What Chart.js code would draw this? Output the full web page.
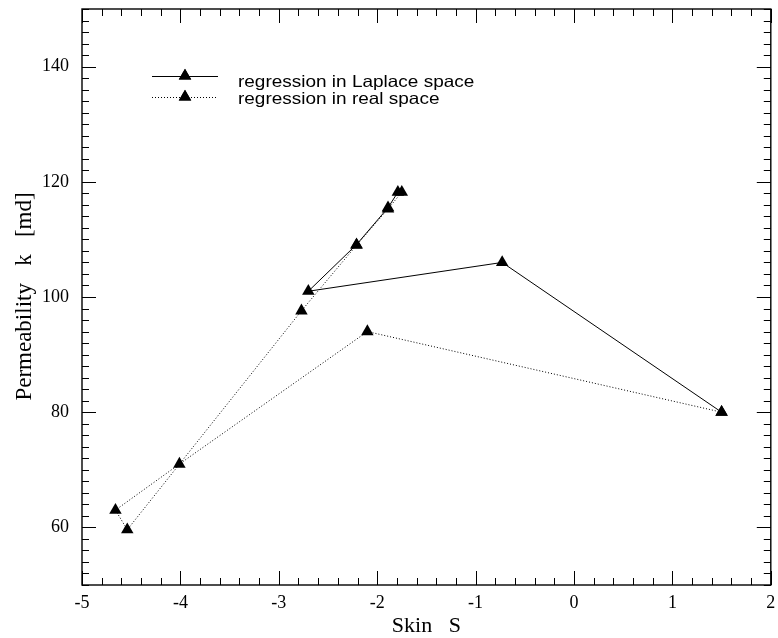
<!DOCTYPE html>
<html>
<head>
<meta charset="utf-8">
<title>Permeability vs Skin</title>
<script src="https://cdn.jsdelivr.net/npm/chart.js@4.4.1/dist/chart.umd.min.js"></script>
<style>
  html, body { margin: 0; padding: 0; background: #fff; }
  canvas { display: block; }
</style>
</head>
<body>
<canvas id="skinChart" width="778" height="638"></canvas>
<script>
// iteration path of each regression (skin S, permeability k in md)
const laplaceSkin = [1.50, -0.73, -2.70, -2.21, -1.89, -1.79];
const laplacePerm = [80.0, 106.0, 101.0, 109.1, 115.5, 118.2];

const realSkin = [1.50, -2.10, -4.01, -4.66, -4.54, -2.77, -2.21, -1.89, -1.75];
const realPerm = [80.0, 94.0, 71.0, 63.0, 59.6, 97.6, 109.0, 115.3, 118.2];

const seriesNames = ["regression in Laplace space", "regression in real space"];

const xTicks = [-5, -4, -3, -2, -1, 0, 1, 2];
const yTicks = [60, 80, 100, 120, 140];

const toPoints = (xs, ys) => xs.map((x, i) => ({ x: x, y: ys[i] }));

const markerRadius = 7.2;
const serif = "'Liberation Serif', 'Times New Roman', serif";

// frame, inward major/minor ticks, legend and axis titles
const framePlugin = {
  id: "frame",
  afterDraw(chart) {
    const { ctx, chartArea: a, scales } = chart;
    const xs = scales.x;
    const ys = scales.y;
    ctx.save();
    ctx.strokeStyle = "#000";
    ctx.lineWidth = 1.4;
    ctx.strokeRect(a.left, a.top, a.right - a.left, a.bottom - a.top);

    ctx.lineWidth = 1;
    ctx.beginPath();
    for (let i = 0; i <= 35; i++) {
      const px = Math.round(xs.getPixelForValue(-5 + i * 0.2)) + 0.5;
      const len = i % 5 === 0 ? 14 : 7;
      ctx.moveTo(px, a.bottom);
      ctx.lineTo(px, a.bottom - len);
      ctx.moveTo(px, a.top);
      ctx.lineTo(px, a.top + len);
    }
    for (let v = 50; v <= 150; v += 2) {
      const py = Math.round(ys.getPixelForValue(v)) + 0.5;
      const len = v % 20 === 0 ? 14 : 7;
      ctx.moveTo(a.left, py);
      ctx.lineTo(a.left + len, py);
      ctx.moveTo(a.right, py);
      ctx.lineTo(a.right - len, py);
    }
    ctx.stroke();

    // legend
    const rows = [
      { y: 76, base: 86.5, dash: [], text: seriesNames[0] },
      { y: 97, base: 103.5, dash: [1, 2], text: seriesNames[1] }
    ];
    ctx.fillStyle = "#000";
    rows.forEach(r => {
      ctx.setLineDash(r.dash);
      ctx.beginPath();
      ctx.moveTo(152, r.y + 0.5);
      ctx.lineTo(218, r.y + 0.5);
      ctx.stroke();
      ctx.setLineDash([]);
      Chart.helpers.drawPoint(ctx, { pointStyle: "triangle", radius: markerRadius, rotation: 0 }, 185, r.y);
      ctx.fill();
      // the legend face is a little wider than Arial
      ctx.save();
      ctx.font = "16.5px 'Liberation Sans', Arial, sans-serif";
      ctx.textAlign = "left";
      ctx.textBaseline = "alphabetic";
      ctx.translate(238, r.base);
      ctx.scale(1.15, 1);
      ctx.fillText(r.text, 0, 0);
      ctx.restore();
    });

    // axis titles
    ctx.textAlign = "center";
    ctx.textBaseline = "alphabetic";
    ctx.font = "22px " + serif;
    ctx.fillText("Skin   S", (a.left + a.right) / 2, 632);
    ctx.font = "23px " + serif;
    ctx.translate(31, 296.5);
    ctx.rotate(-Math.PI / 2);
    ctx.fillText("Permeability   k   [md]", 0, 0);
    ctx.restore();
  }
};

new Chart(document.getElementById("skinChart"), {
  type: "scatter",
  data: {
    datasets: [
      {
        label: seriesNames[0],
        data: toPoints(laplaceSkin, laplacePerm),
        showLine: true,
        borderColor: "#000",
        borderWidth: 1,
        backgroundColor: "#000",
        pointStyle: "triangle",
        pointRadius: markerRadius,
        pointBorderWidth: 0
      },
      {
        label: seriesNames[1],
        data: toPoints(realSkin, realPerm),
        showLine: true,
        borderColor: "#000",
        borderWidth: 1,
        borderDash: [1, 2],
        backgroundColor: "#000",
        pointStyle: "triangle",
        pointRadius: markerRadius,
        pointBorderWidth: 0
      }
    ]
  },
  options: {
    responsive: false,
    animation: false,
    devicePixelRatio: 1,
    layout: { padding: { top: 9, right: 5, left: 0, bottom: 0 } },
    plugins: {
      legend: { display: false },
      tooltip: { enabled: false }
    },
    scales: {
      x: {
        type: "linear",
        min: -5,
        max: 2,
        afterBuildTicks: s => { s.ticks = xTicks.map(v => ({ value: v })); },
        afterFit: s => {
          s.height = 53;
          s.paddingLeft = 0;
          s.paddingRight = 0;
        },
        grid: { display: false, drawTicks: false },
        border: { display: false },
        ticks: {
          padding: 7,
          color: "#000",
          maxRotation: 0,
          font: { family: serif, size: 18 }
        }
      },
      y: {
        type: "linear",
        min: 50,
        max: 150,
        afterBuildTicks: s => { s.ticks = yTicks.map(v => ({ value: v })); },
        afterFit: s => {
          s.width = 82;
          s.paddingTop = 0;
          s.paddingBottom = 0;
        },
        grid: { display: false, drawTicks: false },
        border: { display: false },
        ticks: {
          padding: 13,
          color: "#000",
          font: { family: serif, size: 18 }
        }
      }
    }
  },
  plugins: [framePlugin]
});
</script>
</body>
</html>
